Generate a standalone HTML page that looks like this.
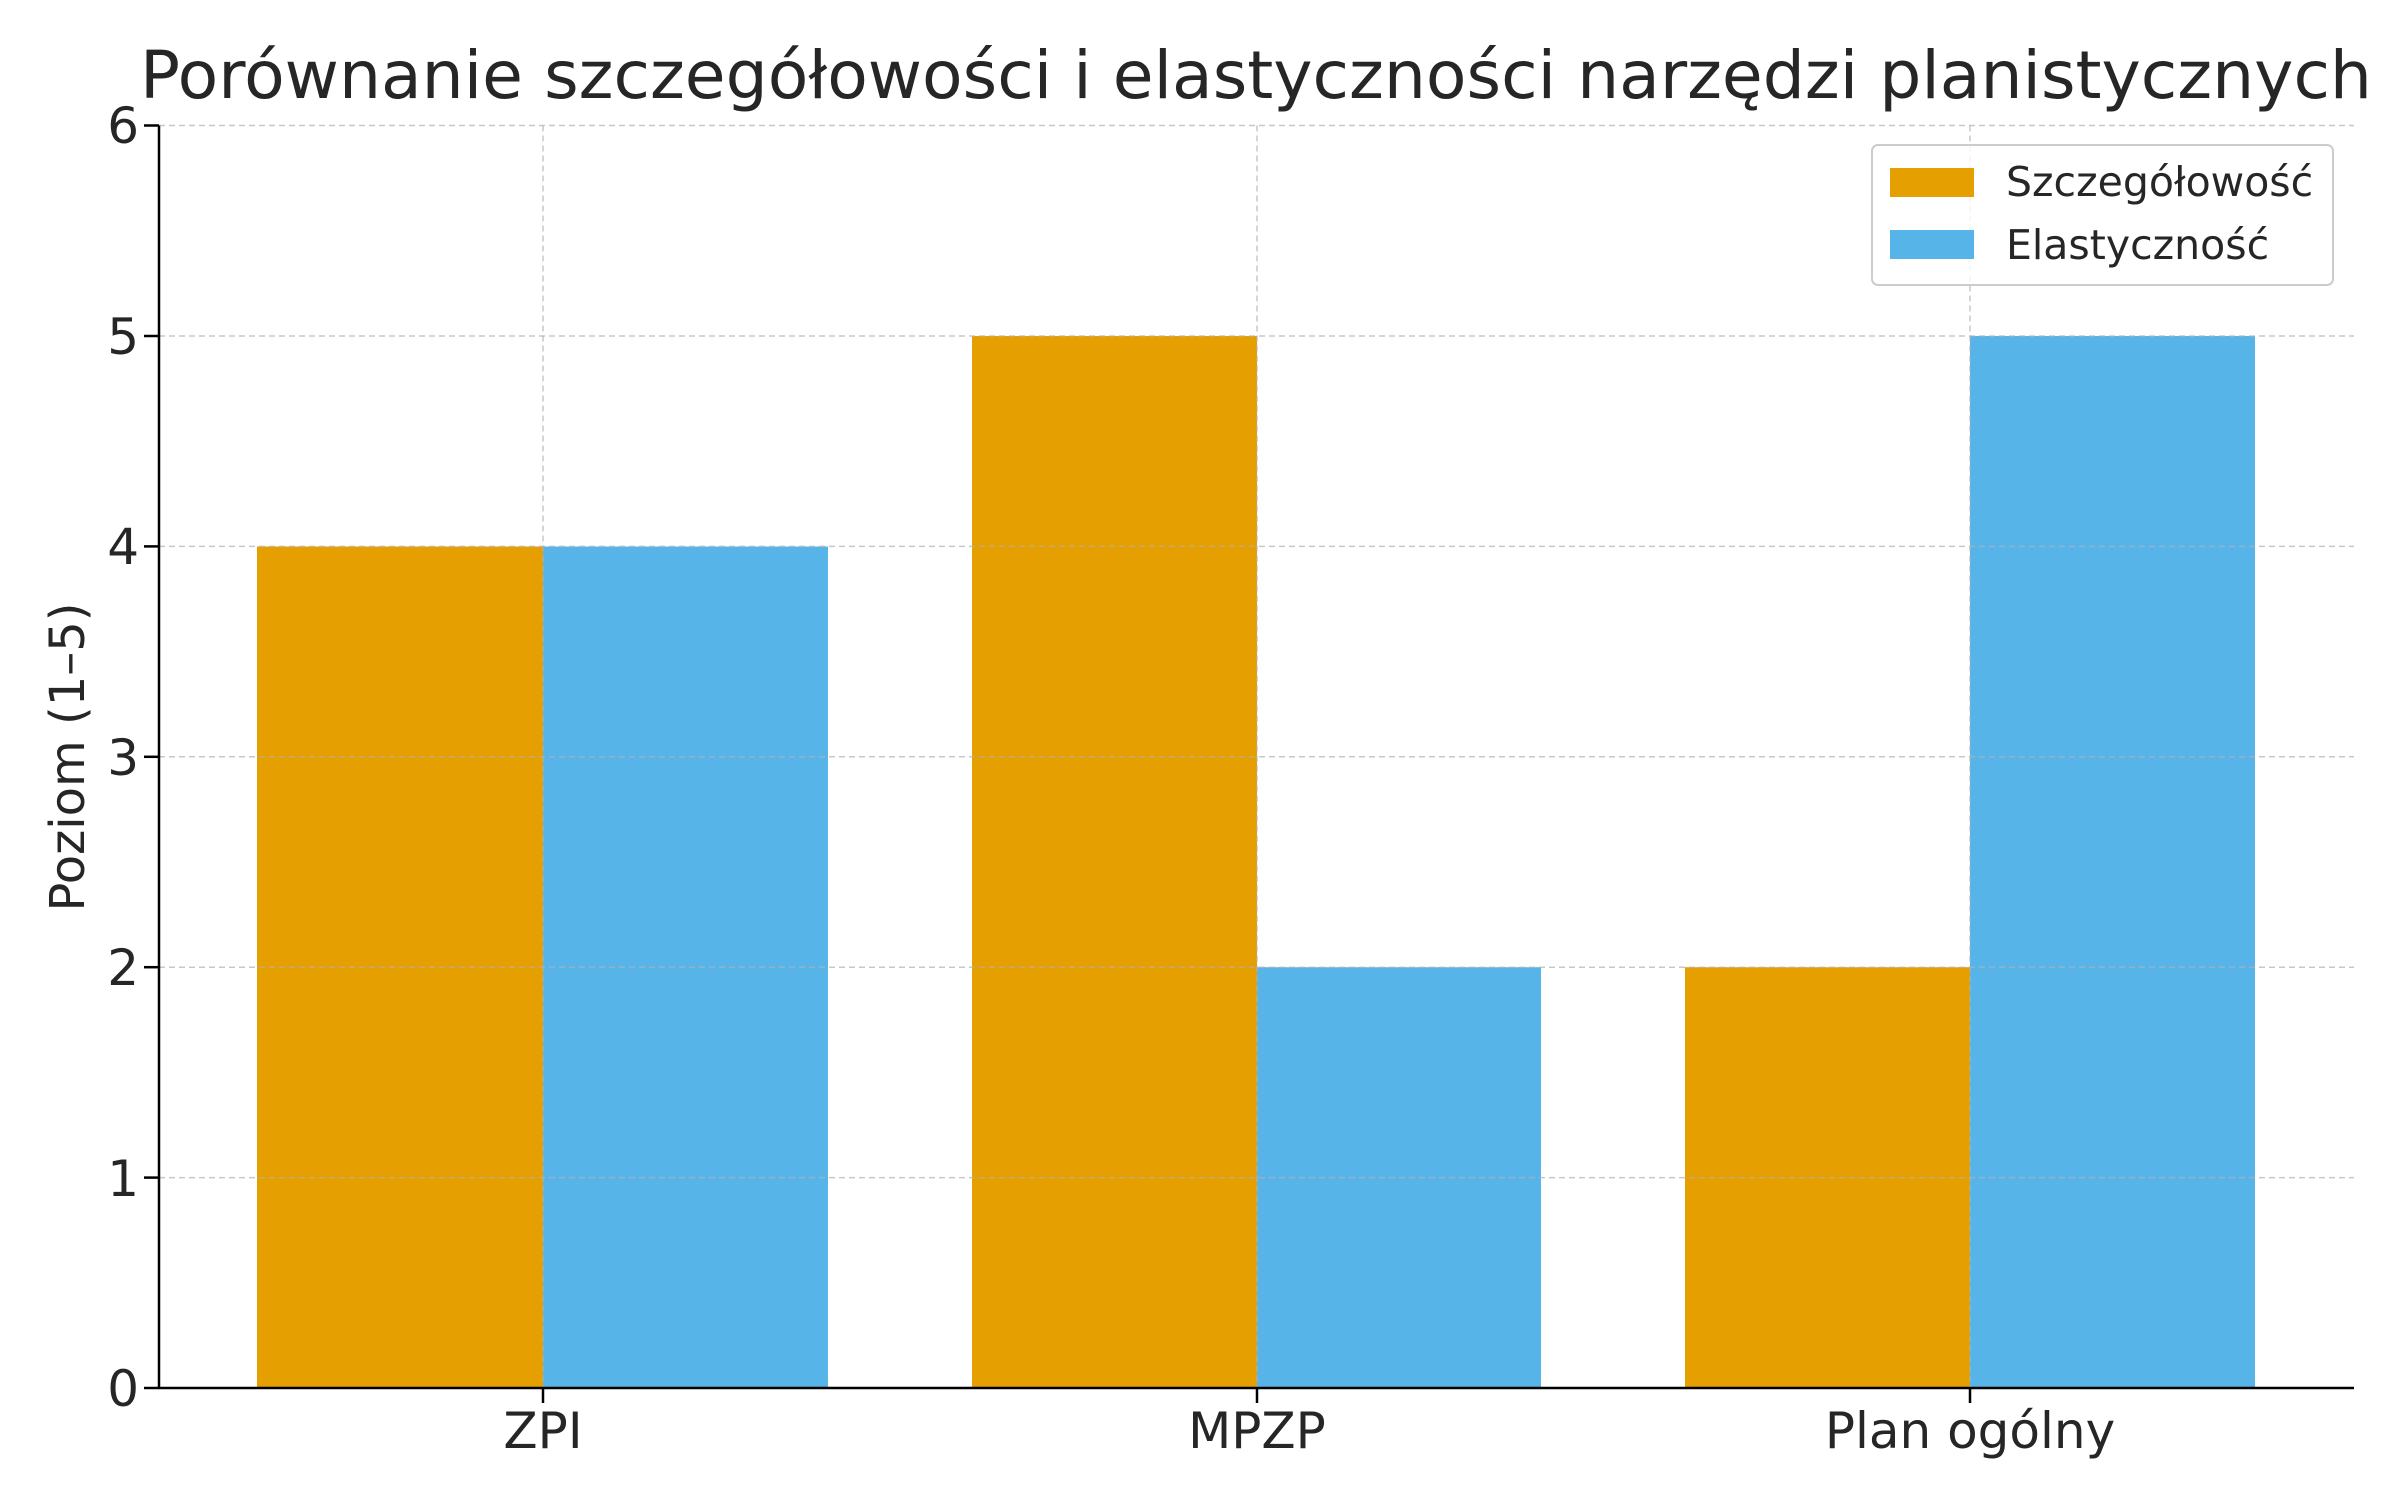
<!DOCTYPE html>
<html><head><meta charset="utf-8"><style>html,body{margin:0;padding:0;background:#fff}svg{display:block}</style></head>
<body>
<svg width="2400" height="1500" viewBox="0 0 2400 1500" xmlns="http://www.w3.org/2000/svg" font-family="DejaVu Sans, Liberation Sans, sans-serif" fill="#262626">
<rect width="2400" height="1500" fill="#fff"/>
<g>
<rect x="257" y="546.5" width="286" height="841.5" fill="#E69F00"/>
<rect x="543" y="546.5" width="285" height="841.5" fill="#56B4E9"/>
<rect x="972" y="336" width="285" height="1052" fill="#E69F00"/>
<rect x="1257" y="967.2" width="284" height="420.8" fill="#56B4E9"/>
<rect x="1685" y="967.2" width="285" height="420.8" fill="#E69F00"/>
<rect x="1970" y="336" width="285" height="1052" fill="#56B4E9"/>
</g>
<g stroke="#b0b0b0" stroke-opacity="0.7" stroke-width="1.5" stroke-dasharray="6,4">
<line x1="159" x2="2354" y1="1177.6" y2="1177.6"/>
<line x1="159" x2="2354" y1="967.2" y2="967.2"/>
<line x1="159" x2="2354" y1="756.8" y2="756.8"/>
<line x1="159" x2="2354" y1="546.4" y2="546.4"/>
<line x1="159" x2="2354" y1="336" y2="336"/>
<line x1="159" x2="2354" y1="125.5" y2="125.5"/>
<line x1="543" x2="543" y1="125.5" y2="1388"/>
<line x1="1257" x2="1257" y1="125.5" y2="1388"/>
<line x1="1970" x2="1970" y1="125.5" y2="1388"/>
</g>
<g stroke="#000" stroke-width="2.5">
<line x1="159" x2="159" y1="125.5" y2="1389"/>
<line x1="158" x2="2354" y1="1388" y2="1388"/>
<line x1="144" x2="159" y1="1388" y2="1388"/>
<line x1="144" x2="159" y1="1177.6" y2="1177.6"/>
<line x1="144" x2="159" y1="967.2" y2="967.2"/>
<line x1="144" x2="159" y1="756.8" y2="756.8"/>
<line x1="144" x2="159" y1="546.4" y2="546.4"/>
<line x1="144" x2="159" y1="336" y2="336"/>
<line x1="144" x2="159" y1="125.5" y2="125.5"/>
<line x1="543" x2="543" y1="1388" y2="1403"/>
<line x1="1257" x2="1257" y1="1388" y2="1403"/>
<line x1="1970" x2="1970" y1="1388" y2="1403"/>
</g>
<g font-size="50" text-anchor="end">
<text x="139" y="1406">0</text>
<text x="139" y="1196">1</text>
<text x="139" y="985">2</text>
<text x="139" y="775">3</text>
<text x="139" y="564">4</text>
<text x="139" y="354">5</text>
<text x="139" y="143">6</text>
</g>
<g font-size="50" text-anchor="middle">
<text x="543" y="1448">ZPI</text>
<text x="1257" y="1448">MPZP</text>
<text x="1970" y="1448">Plan ogólny</text>
</g>
<text transform="translate(84,757) rotate(-90)" font-size="48" text-anchor="middle">Poziom (1–5)</text>
<text x="1256" y="98" font-size="66" text-anchor="middle" textLength="2232" lengthAdjust="spacingAndGlyphs">Porównanie szczegółowości i elastyczności narzędzi planistycznych</text>
<rect x="1872" y="145" width="461" height="140" rx="6" fill="#fff" fill-opacity="0.8" stroke="#cccccc" stroke-width="2"/>
<rect x="1890" y="168" width="84" height="29" fill="#E69F00"/>
<rect x="1890" y="230" width="84" height="29" fill="#56B4E9"/>
<g font-size="41">
<text x="2006" y="196">Szczegółowość</text>
<text x="2006" y="259">Elastyczność</text>
</g>
</svg>
</body></html>
